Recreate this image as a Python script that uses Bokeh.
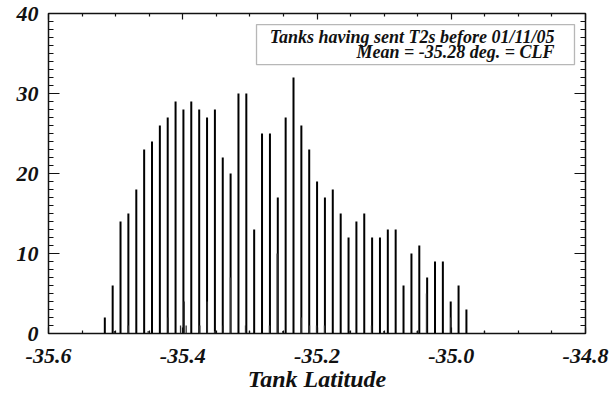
from bokeh.plotting import figure
from bokeh.models import (LinearAxis, FixedTicker, PrintfTickFormatter, Range1d,
                          BoxAnnotation, Label, ColumnDataSource)
from bokeh.embed import file_html
from bokeh.resources import INLINE

# Main histogram bins (tank latitude, deg) and counts
lat = [-35.5161, -35.5044, -35.4927, -35.4810, -35.4692, -35.4575, -35.4458, -35.4341,
       -35.4224, -35.4107, -35.3990, -35.3873, -35.3755, -35.3638, -35.3521, -35.3404,
       -35.3287, -35.3170, -35.3053, -35.2936, -35.2819, -35.2701, -35.2584, -35.2467,
       -35.2350, -35.2233, -35.2116, -35.1999, -35.1882, -35.1765, -35.1647, -35.1530,
       -35.1413, -35.1296, -35.1179, -35.1062, -35.0945, -35.0828, -35.0711, -35.0593,
       -35.0476, -35.0359, -35.0242, -35.0125, -35.0008, -34.9891, -34.9774]
counts = [2, 6, 14, 15, 18, 23, 24, 26, 27, 29, 28, 29, 28, 27, 28, 22,
          20, 30, 30, 13, 25, 25, 17, 27, 32, 26, 23, 19, 17, 18, 15, 12,
          14, 15, 12, 12, 13, 13, 6, 10, 11, 7, 9, 9, 4, 6, 3]

# Small off-grid entries
small_lat = [-35.5017, -35.4813, -35.4515, -35.4217, -35.4033, -35.3978, -35.3949,
             -35.3746, -35.3636, -35.3523, -35.3397, -35.3289, -35.3065, -35.3006,
             -35.2708, -35.2593, -35.2510, -35.2235, -35.2112, -35.2007, -35.1888,
             -35.1511, -35.1188, -35.1005, -35.0507, -35.0369, -35.0007, -34.9505]
small_counts = [0.3, 1, 0.3, 2, 1, 4, 1, 1, 4, 0.3, 1, 7, 1, 0.3, 1, 10, 0.3, 2, 1, 1, 1,
                0.3, 1, 0.3, 0.3, 5, 2, 0.3]

x_major = [-35.6, -35.4, -35.2, -35.0, -34.8]
x_minor = [-35.55, -35.5, -35.45, -35.35, -35.3, -35.25, -35.15, -35.1, -35.05,
           -34.95, -34.9, -34.85]
y_major = [0, 10, 20, 30, 40]
y_minor = [v for v in range(0, 41)]

legend_line1 = "Tanks having sent T2s before 01/11/05"
legend_line2 = "Mean = -35.28 deg. = CLF"
x_title = "Tank Latitude"

FONT = "Liberation Serif"
INK = "#111111"

p = figure(width=612, height=397, output_backend="svg", toolbar_location=None,
           x_range=Range1d(-35.6, -34.8), y_range=Range1d(0, 40),
           x_axis_type=None, y_axis_type=None,
           min_border_left=48, min_border_right=27, min_border_top=13, min_border_bottom=64)
p.outline_line_color = "#111111"
p.outline_line_width = 1.5
p.background_fill_color = "white"
p.border_fill_color = "white"


def style_axis(ax, tin, tmin, labels=True):
    ax.axis_line_color = None
    ax.major_tick_out = 0
    ax.minor_tick_out = 0
    ax.major_tick_in = tin
    ax.minor_tick_in = tmin
    ax.major_tick_line_color = "#111111"
    ax.minor_tick_line_color = "#111111"
    ax.major_tick_line_width = 1.2
    ax.minor_tick_line_width = 1.2
    if labels:
        ax.major_label_text_font = FONT
        ax.major_label_text_font_style = "bold italic"
        ax.major_label_text_font_size = "22px"
        ax.major_label_text_color = INK
    else:
        ax.major_label_text_font_size = "1px"
        ax.major_label_text_color = None
        ax.major_label_standoff = 0


xb = LinearAxis(ticker=FixedTicker(ticks=x_major, minor_ticks=x_minor),
                formatter=PrintfTickFormatter(format="%.1f"), axis_label=x_title)
style_axis(xb, 6, 3)
xb.major_label_standoff = 15
xb.axis_label_text_font = FONT
xb.axis_label_text_font_style = "bold italic"
xb.axis_label_text_font_size = "24px"
xb.axis_label_text_color = INK
xb.axis_label_standoff = 0
p.add_layout(xb, "below")

xt = LinearAxis(ticker=FixedTicker(ticks=x_major, minor_ticks=x_minor))
style_axis(xt, 6, 3, labels=False)
p.add_layout(xt, "above")

yl = LinearAxis(ticker=FixedTicker(ticks=y_major, minor_ticks=y_minor))
style_axis(yl, 11, 5)
yl.major_label_standoff = 10
p.add_layout(yl, "left")

yr = LinearAxis(ticker=FixedTicker(ticks=y_major, minor_ticks=y_minor))
style_axis(yr, 11, 5, labels=False)
p.add_layout(yr, "right")

src = ColumnDataSource(dict(x=lat, y0=[0] * len(lat), y1=counts))
p.segment(x0="x", y0="y0", x1="x", y1="y1", source=src, line_color="black", line_width=2)

src2 = ColumnDataSource(dict(x=small_lat, y0=[0] * len(small_lat), y1=small_counts))
p.segment(x0="x", y0="y0", x1="x", y1="y1", source=src2, line_color="#333333", line_width=1.3)

# Legend box
p.add_layout(BoxAnnotation(left=-35.2901, right=-34.8164, bottom=33.62, top=38.62,
                           fill_color=None, line_color="#111111", line_width=1.3))
p.add_layout(Label(x=-34.8462, y=37.12, text=legend_line1, text_align="right",
                   text_baseline="middle", text_font=FONT, text_font_style="bold italic",
                   text_font_size="18px", text_color=INK))
p.add_layout(Label(x=-34.8462, y=35.25, text=legend_line2, text_align="right",
                   text_baseline="middle", text_font=FONT, text_font_style="bold italic",
                   text_font_size="18px", text_color=INK))

open("out.html", "w").write(file_html(p, INLINE))
